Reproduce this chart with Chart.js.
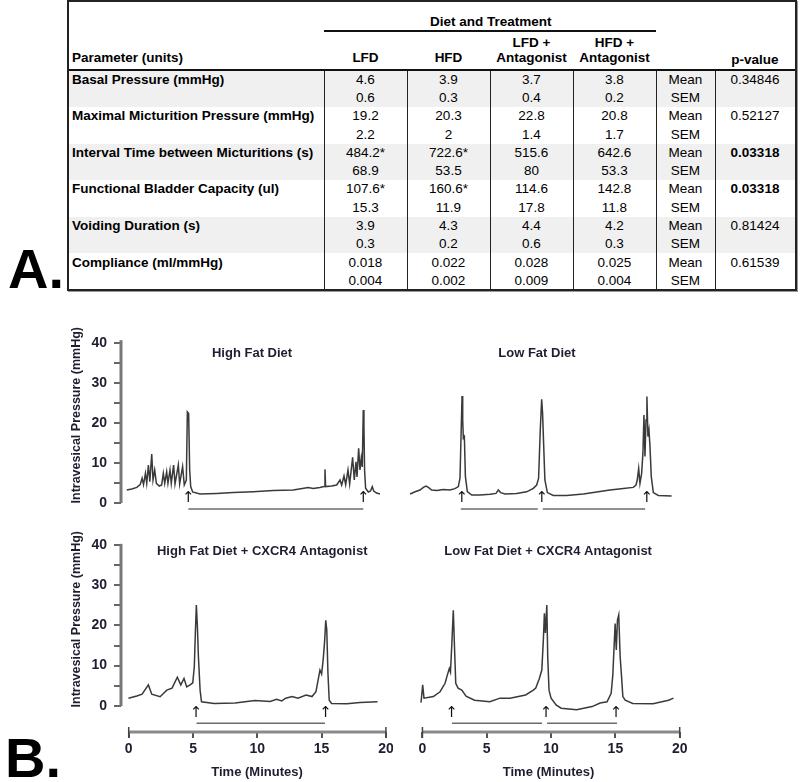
<!DOCTYPE html>
<html>
<head>
<meta charset="utf-8">
<title>Diet, CXCR4 antagonist and bladder function</title>
<script src="https://cdn.jsdelivr.net/npm/chart.js@4.4.1/dist/chart.umd.min.js"></script>
<style>
  html, body { margin: 0; padding: 0; background: #fff; }
  body { width: 800px; height: 782px; position: relative; overflow: hidden;
         font-family: "Liberation Sans", Arial, sans-serif; color: #000; }
  .big { position: absolute; font: bold 56px/56px "Liberation Sans", Arial, sans-serif; }
  canvas { position: absolute; }
  #tableA { position: absolute; left: 67px; top: 0; width: 730px; height: 291px; box-sizing: border-box;
            border: 2px solid #222; box-shadow: 1px 1px 0 #999; font-size: 13.5px; }
  #tableA div { position: absolute; white-space: pre; }
  #tableA .t { line-height: 18px; height: 18px; }
  #tableA .c { text-align: center; width: 120px; }
  #tableA .b { font-weight: bold; }
</style>
</head>
<body>

<div id="tableA"></div>

<div class="big" style="left:8px;top:241px">A.</div>
<div class="big" style="left:5px;top:730px">B.</div>

<canvas id="hfd" width="328" height="188" style="left:65px;top:327px"></canvas>
<canvas id="lfd" width="283" height="188" style="left:407px;top:327px"></canvas>
<canvas id="hfdAnt" width="328" height="251" style="left:65px;top:531px"></canvas>
<canvas id="lfdAnt" width="283" height="251" style="left:407px;top:531px"></canvas>

<script>
// ---- table A ----
const parameters = ['Basal Pressure (mmHg)', 'Maximal Micturition Pressure (mmHg)',
  'Interval Time between Micturitions (s)', 'Functional Bladder Capacity (ul)',
  'Voiding Duration (s)', 'Compliance (ml/mmHg)'];
const groupNames = ['LFD', 'HFD', 'LFD +\nAntagonist', 'HFD +\nAntagonist'];
const lfdMean = ['4.6', '19.2', '484.2*', '107.6*', '3.9', '0.018'];
const lfdSem = ['0.6', '2.2', '68.9', '15.3', '0.3', '0.004'];
const hfdMean = ['3.9', '20.3', '722.6*', '160.6*', '4.3', '0.022'];
const hfdSem = ['0.3', '2', '53.5', '11.9', '0.2', '0.002'];
const lfdAntMean = ['3.7', '22.8', '515.6', '114.6', '4.4', '0.028'];
const lfdAntSem = ['0.4', '1.4', '80', '17.8', '0.6', '0.009'];
const hfdAntMean = ['3.8', '20.8', '642.6', '142.8', '4.2', '0.025'];
const hfdAntSem = ['0.2', '1.7', '53.3', '11.8', '0.3', '0.004'];
const pValues = ['0.34846', '0.52127', '0.03318', '0.03318', '0.81424', '0.61539'];

// ---- traces B (time in minutes, pressure in mmHg) ----
const timeTicks = [0, 5, 10, 15, 20];
const pressureTicks = [0, 5, 10, 15, 20, 25, 30, 35, 40];

const hfdTime = [-0.15, 0.24, 0.63, 0.89, 1.04, 1.15, 1.30, 1.40, 1.53, 1.64,
  1.79, 1.89, 2.02, 2.15, 2.38, 2.56, 2.69, 2.80, 2.95, 3.05,
  3.21, 3.31, 3.49, 3.60, 3.86, 3.96, 4.19, 4.32, 4.48, 4.56,
  4.66, 4.74, 4.82, 4.97, 5.54, 6.84, 8.13, 9.68, 11.23, 12.79,
  13.96, 14.34, 14.86, 15.20, 15.26, 15.31, 15.77, 16.17, 16.43, 16.56,
  16.74, 16.87, 17.05, 17.18, 17.41, 17.54, 17.67, 17.75, 17.88, 17.98,
  18.08, 18.16, 18.24, 18.29, 18.34, 18.42, 18.63, 18.80, 18.94, 19.05,
  19.28, 19.53];
const hfdPressure = [3.25, 3.5, 3.9, 4.6, 6.2, 4.6, 7.4, 4.9, 9.5, 5.3,
  12.25, 5.75, 8.25, 4.9, 4.25, 4.5, 7.4, 4.9, 7.8, 4.9,
  8.25, 4.9, 9.5, 4.75, 9.5, 4.75, 9.1, 4.5, 5.75, 22.8,
  22.4, 8.25, 4.1, 2.75, 2.25, 2.4, 2.6, 2.8, 3.1, 3.25,
  3.9, 3.65, 3.9, 4.1, 8.4, 4.1, 4.25, 4.5, 5.75, 4.5,
  6.75, 4.6, 8.25, 4.75, 11.4, 5.75, 10.3, 6.5, 13.7, 8.25,
  11.2, 9.0, 23.25, 19, 8.25, 3.7, 2.75, 3.0, 4.1, 3.0,
  2.5, 2.25];

const lfdTime = [-0.96, -0.57, -0.19, 0.07, 0.28, 0.46, 0.72, 1.11, 1.63, 2.14,
  2.53, 2.79, 2.92, 3.00, 3.08, 3.13, 3.18, 3.26, 3.34, 3.49,
  3.83, 4.48, 5.26, 5.72, 5.90, 6.08, 6.42, 7.32, 8.10, 8.62,
  8.88, 9.03, 9.16, 9.27, 9.34, 9.42, 9.52, 9.71, 10.17, 11.21,
  12.51, 13.54, 14.58, 15.62, 16.39, 16.60, 16.70, 16.81, 16.91, 17.04,
  17.14, 17.22, 17.30, 17.38, 17.45, 17.53, 17.61, 17.69, 17.79, 17.95,
  18.34, 19.37];
const lfdPressure = [2.25, 2.8, 3.25, 3.9, 4.25, 3.9, 3.25, 3.1, 3.4, 3.25,
  3.6, 4.1, 6.2, 16.6, 26.75, 20.75, 16.2, 16.6, 6.6, 2.85,
  2.0, 2.0, 2.2, 2.4, 3.25, 2.6, 2.25, 2.4, 2.8, 3.65,
  4.5, 6.2, 18.25, 25.9, 22.4, 14.9, 5.75, 2.6, 1.9, 1.9,
  2.25, 2.75, 3.25, 3.65, 3.9, 4.5, 5.75, 8.65, 4.9, 7.4,
  12.4, 22.0, 11.6, 20.75, 26.6, 16.6, 18.25, 14.1, 6.6, 2.6,
  1.9, 1.75];

const hfdAntTime = [-0.02, 0.63, 1.04, 1.53, 1.79, 2.44, 2.96, 3.37, 3.78, 4.05,
  4.30, 4.51, 4.77, 4.98, 5.10, 5.18, 5.26, 5.34, 5.42, 5.55,
  5.66, 6.64, 8.27, 9.82, 10.99, 11.5, 11.9, 12.21, 12.70, 13.16,
  13.79, 14.25, 14.56, 14.87, 15.00, 15.13, 15.24, 15.32, 15.40, 15.49,
  15.59, 15.77, 16.97, 17.98, 19.35];
const hfdAntPressure = [1.9, 2.45, 2.9, 5.2, 2.9, 2.25, 3.9, 4.4, 7.1, 5.2,
  6.8, 4.7, 5.2, 5.7, 9.7, 18.0, 25.1, 19.7, 12.2, 3.9,
  1.0, 0.6, 0.7, 1.3, 1.1, 1.6, 1.2, 1.9, 2.3, 1.9,
  2.7, 2.3, 3.5, 8.9, 7.9, 11.8, 16.4, 21.3, 18.9, 8.2,
  1.4, 0.6, 0.5, 0.8, 1.0];

const lfdAntTime = [-0.11, 0.02, 0.12, 0.85, 1.37, 1.76, 1.94, 2.09, 2.18, 2.30,
  2.40, 2.50, 2.59, 2.77, 3.06, 3.39, 4.05, 5.24, 6.03, 6.81,
  8.02, 8.62, 8.81, 9.09, 9.28, 9.40, 9.48, 9.56, 9.67, 9.74,
  9.84, 10.00, 10.39, 10.78, 11.98, 13.19, 13.81, 14.35, 14.67, 14.80,
  14.98, 15.07, 15.16, 15.26, 15.37, 15.47, 15.58, 15.76, 16.35, 17.93,
  19.13, 19.52];
const lfdAntPressure = [0.8, 5.2, 1.9, 2.3, 3.5, 5.6, 7.7, 9.3, 8.4, 16.4,
  23.8, 13.9, 5.6, 4.4, 3.9, 2.4, 1.4, 1.0, 1.9, 1.9,
  2.7, 3.9, 4.4, 6.8, 8.9, 16.4, 23.0, 18.1, 25.1, 12.2,
  3.9, 1.9, 0.2, -0.6, -1.0, -0.2, 0.7, 1.0, 3.1, 7.7,
  20.5, 13.9, 21.3, 22.6, 12.2, 7.7, 2.3, 1.4, 0.6, 0.5,
  1.4, 1.9];

// voiding marks (arrows) and intervals between micturitions
const hfdArrows = [4.64, 18.24];
const hfdStart = [4.64];
const hfdEnd = [18.24];
const lfdArrows = [3.06, 9.28, 17.44];
const lfdStart = [2.98, 9.35];
const lfdEnd = [8.97, 17.31];
const hfdAntArrows = [5.24, 15.30];
const hfdAntStart = [5.27];
const hfdAntEnd = [15.26];
const lfdAntArrows = [2.26, 9.61, 15.05];
const lfdAntStart = [2.30, 9.69];
const lfdAntEnd = [9.30, 15.13];

// ---- build table (page coordinates, converted to the box's inner origin) ----
const tbl = document.getElementById('tableA');
const X0 = 69, Y0 = 2;
const colEdges = [324, 407, 490, 573, 656, 715, 795];
const rowTop = 70.5, rowH = 18.3;
const colMid = i => (colEdges[i] + colEdges[i + 1]) / 2;

function box(x, y, w, h, color) {
  const d = document.createElement('div');
  d.style.cssText = 'left:' + (x - X0) + 'px;top:' + (y - Y0) + 'px;width:' + w + 'px;height:' + h +
    'px;background:' + color;
  tbl.appendChild(d);
}
function text(str, x, y, centered, bold) {
  const d = document.createElement('div');
  d.className = 't' + (centered ? ' c' : '') + (bold ? ' b' : '');
  d.textContent = str;
  d.style.left = ((centered ? x - 60 : x) - X0) + 'px';
  d.style.top = (y - 9 - Y0) + 'px';
  tbl.appendChild(d);
}

// shaded groups
parameters.forEach(function(p, i) {
  if (i % 2 === 0) box(X0, rowTop + 2 * i * rowH, 726, 2 * rowH, '#f0f0f0');
});
// rules
box(colEdges[0], 29.7, colEdges[4] - colEdges[0], 2, '#111');
box(X0, 68.5, 726, 2, '#111');
colEdges.slice(0, 6).forEach(x => box(x, 70.5, 1, 289 - 70.5, '#222'));

// header
text('Diet and Treatment', (colEdges[0] + colEdges[4]) / 2, 21.7, true, true);
text('Parameter (units)', 72, 58, false, true);
groupNames.forEach(function(g, i) {
  const lines = g.split('\n');
  lines.forEach((ln, k) => text(ln, colMid(i), 58 - 15 * (lines.length - 1 - k), true, true));
});
text('p-value', colMid(5), 60, true, true);

// body
const means = [lfdMean, hfdMean, lfdAntMean, hfdAntMean];
const sems = [lfdSem, hfdSem, lfdAntSem, hfdAntSem];
parameters.forEach(function(p, i) {
  const yMean = rowTop + (2 * i + 0.5) * rowH;
  const ySem = yMean + rowH;
  text(p, 72, yMean, false, true);
  means.forEach((m, g) => text(m[i], colMid(g), yMean, true, false));
  sems.forEach((s, g) => text(s[i], colMid(g), ySem, true, false));
  text('Mean', colMid(4), yMean, true, false);
  text('SEM', colMid(4), ySem, true, false);
  text(pValues[i], colMid(5), yMean, true, parseFloat(pValues[i]) < 0.05);
});

// ---- charts ----
Chart.defaults.font.family = '"Liberation Sans", Arial, sans-serif';
const ink = '#1e1e30';

function lineSet(times, values, color, width) {
  return {
    data: times.map((t, i) => ({x: t, y: values[i]})),
    borderColor: color, borderWidth: width, pointRadius: 0, tension: 0, fill: false
  };
}

function drawPanel(id, p) {
  const datasets = [lineSet(p.time, p.pressure, '#3a3a3a', 1.5)];
  p.starts.forEach(function(s, i) {
    datasets.push(lineSet([s, p.ends[i]], [p.barY, p.barY], '#6b6b6b', 1.6));
  });

  // axis bars, panel title and voiding arrows
  const decor = {
    id: 'decor',
    afterDatasetsDraw(chart) {
      const {ctx, chartArea, scales: {x, y}} = chart;
      ctx.save();
      if (p.showY) {
        ctx.strokeStyle = '#777';
        ctx.lineWidth = 3;
        ctx.beginPath();
        ctx.moveTo(chartArea.left, y.getPixelForValue(p.yAxis[0]));
        ctx.lineTo(chartArea.left, y.getPixelForValue(p.yAxis[1]));
        ctx.stroke();
      }
      if (p.showX) {
        const yb = chartArea.bottom;
        const x0 = x.getPixelForValue(timeTicks[0]);
        const x1 = x.getPixelForValue(timeTicks[timeTicks.length - 1]);
        ctx.strokeStyle = '#8a8a8a';
        ctx.lineWidth = 3;
        ctx.beginPath(); ctx.moveTo(x0, yb); ctx.lineTo(x1, yb); ctx.stroke();
        ctx.strokeStyle = '#444';
        ctx.lineWidth = 1.5;
        [x0, x1].forEach(function(xx) {
          ctx.beginPath(); ctx.moveTo(xx, yb - 5); ctx.lineTo(xx, yb + 6); ctx.stroke();
        });
      }
      ctx.textAlign = 'center';
      ctx.textBaseline = 'middle';
      ctx.fillStyle = ink;
      ctx.font = 'bold 13px "Liberation Sans", Arial, sans-serif';
      ctx.fillText(p.title, x.getPixelForValue(p.titleAt[0]), y.getPixelForValue(p.titleAt[1]));
      ctx.fillStyle = '#111';
      ctx.font = '15px "DejaVu Sans", sans-serif';
      p.arrows.forEach(function(t) {
        ctx.fillText('\u2191', x.getPixelForValue(t), y.getPixelForValue(p.arrowY));
      });
      ctx.restore();
    }
  };

  const xScale = {
    type: 'linear', min: p.xMin, max: p.xMax, display: p.showX,
    afterBuildTicks: s => { s.ticks = timeTicks.map(v => ({value: v})); },
    border: {display: false},
    grid: {drawOnChartArea: false, drawTicks: true, tickLength: 6, color: '#555', lineWidth: 2},
    ticks: {padding: 3, color: ink, font: {size: 14, weight: 'bold'}, maxRotation: 0, autoSkip: false},
    title: {display: true, text: 'Time (Minutes)', color: ink, font: {size: 13, weight: 'bold'},
            padding: {top: 0, bottom: 2}}
  };
  if (p.showX) {
    xScale.afterFit = s => { s.height = 50; s.paddingLeft = 0; s.paddingRight = 0; };
  }

  const yScale = {
    type: 'linear', min: p.yMin, max: p.yMax, display: p.showY,
    afterBuildTicks: s => { s.ticks = pressureTicks.map(v => ({value: v})); },
    border: {display: false},
    grid: {drawOnChartArea: false, drawTicks: true, tickLength: 7, color: '#666', lineWidth: 2},
    ticks: {padding: 7, color: ink, font: {size: 14, weight: 'bold'},
            callback: v => (v % 10 === 0 ? v : '')},
    title: {display: true, text: 'Intravesical Pressure (mmHg)', align: 'end', color: ink,
            font: {size: 12.5, weight: 'bold'}, padding: {top: 4.5, bottom: 0}}
  };
  if (p.showY) {
    yScale.afterFit = s => { s.width = 56; s.paddingTop = 0; s.paddingBottom = 0; };
  }

  new Chart(document.getElementById(id), {
    type: 'line',
    data: {datasets: datasets},
    options: {
      responsive: false, animation: false, events: [],
      layout: {padding: 0},
      plugins: {legend: {display: false}, tooltip: {enabled: false}},
      scales: {x: xScale, y: yScale}
    },
    plugins: [decor]
  });
}

drawPanel('hfd', {
  time: hfdTime, pressure: hfdPressure, arrows: hfdArrows, starts: hfdStart, ends: hfdEnd,
  title: 'High Fat Diet', titleAt: [9.59, 37.4],
  xMin: -0.6, xMax: 20.55, yMin: -3, yMax: 44, yAxis: [0, 40.7],
  showX: false, showY: true, arrowY: 1.25, barY: -1.5
});
drawPanel('lfd', {
  time: lfdTime, pressure: lfdPressure, arrows: lfdArrows, starts: lfdStart, ends: lfdEnd,
  title: 'Low Fat Diet', titleAt: [8.9, 37.4],
  xMin: -1.2, xMax: 20.8, yMin: -3, yMax: 44,
  showX: false, showY: false, arrowY: 1.25, barY: -1.5
});
drawPanel('hfdAnt', {
  time: hfdAntTime, pressure: hfdAntPressure, arrows: hfdAntArrows, starts: hfdAntStart, ends: hfdAntEnd,
  title: 'High Fat Diet + CXCR4 Antagonist', titleAt: [10.38, 38.3],
  xMin: -0.6, xMax: 20.55, yMin: -6.52, yMax: 43.5, yAxis: [-0.1, 40.3],
  showX: true, showY: true, arrowY: -1.87, barY: -4.35
});
drawPanel('lfdAnt', {
  time: lfdAntTime, pressure: lfdAntPressure, arrows: lfdAntArrows, starts: lfdAntStart, ends: lfdAntEnd,
  title: 'Low Fat Diet + CXCR4 Antagonist', titleAt: [9.77, 38.3],
  xMin: -1.2, xMax: 20.8, yMin: -6.52, yMax: 43.5,
  showX: true, showY: false, arrowY: -1.87, barY: -4.35
});
</script>
</body>
</html>
